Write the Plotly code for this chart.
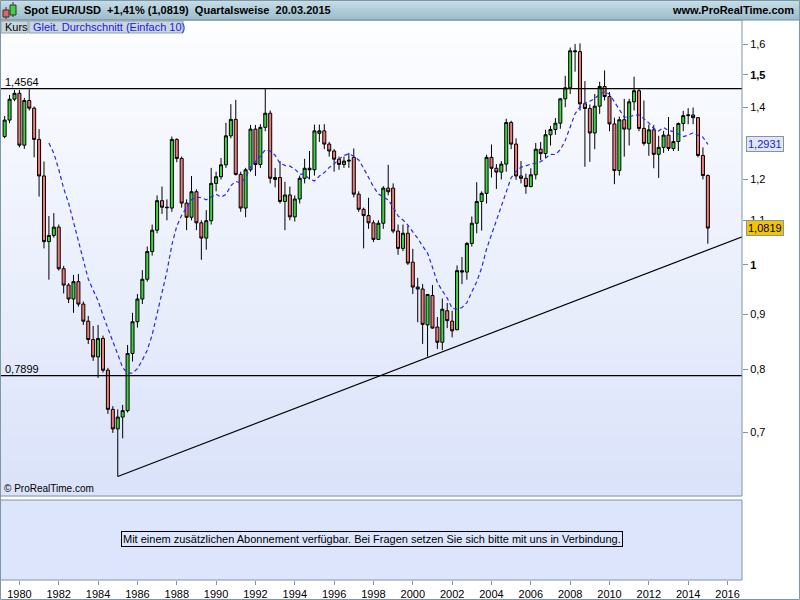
import numpy as np
import pandas as pd
import plotly.graph_objects as go

# ---------------- data (quarterly EUR/USD, 1979Q2 .. 2015Q1) ----------------
quarters = [str(p) for p in pd.period_range("1979Q2", "2015Q1", freq="Q")]

opens = [1.315, 1.362, 1.424, 1.442, 1.291, 1.420, 1.397, 1.307, 1.209, 1.051,
         1.065, 1.084, 0.992, 0.958, 0.930, 0.965, 0.920, 0.887, 0.853, 0.822,
         0.855, 0.799, 0.735, 0.705, 0.723, 0.733, 0.828, 0.886, 0.930, 0.970,
         1.029, 1.077, 1.147, 1.131, 1.129, 1.307, 1.255, 1.141, 1.107, 1.169,
         1.094, 1.059, 1.099, 1.190, 1.207, 1.238, 1.317, 1.364, 1.213, 1.129,
         1.225, 1.336, 1.239, 1.341, 1.382, 1.200, 1.205, 1.145, 1.161, 1.108,
         1.151, 1.203, 1.229, 1.225, 1.324, 1.331, 1.294, 1.275, 1.253, 1.239,
         1.248, 1.258, 1.163, 1.126, 1.111, 1.094, 1.056, 1.093, 1.178, 1.178,
         1.075, 1.036, 1.070, 1.006, 0.954, 0.950, 0.880, 0.937, 0.876, 0.848,
         0.907, 0.887, 0.871, 0.988, 0.985, 1.047, 1.093, 1.145, 1.165, 1.258,
         1.229, 1.219, 1.240, 1.355, 1.294, 1.209, 1.203, 1.182, 1.212, 1.280,
         1.268, 1.320, 1.335, 1.353, 1.425, 1.459, 1.579, 1.576, 1.410, 1.396,
         1.325, 1.403, 1.463, 1.432, 1.351, 1.223, 1.363, 1.336, 1.416, 1.450,
         1.338, 1.296, 1.334, 1.266, 1.285, 1.319, 1.282, 1.301, 1.352, 1.375,
         1.377, 1.369, 1.263, 1.210]
highs = [1.374, 1.437, 1.452, 1.452, 1.428, 1.454, 1.402, 1.336, 1.247, 1.110,
         1.117, 1.090, 0.998, 0.962, 0.979, 0.981, 0.925, 0.897, 0.878, 0.880,
         0.860, 0.803, 0.740, 0.735, 0.742, 0.843, 0.903, 0.940, 0.989, 1.040,
         1.090, 1.160, 1.182, 1.150, 1.315, 1.310, 1.260, 1.150, 1.209, 1.175,
         1.100, 1.124, 1.230, 1.220, 1.256, 1.354, 1.409, 1.422, 1.220, 1.230,
         1.348, 1.348, 1.350, 1.456, 1.390, 1.230, 1.248, 1.194, 1.182, 1.160,
         1.210, 1.254, 1.275, 1.349, 1.349, 1.350, 1.300, 1.280, 1.260, 1.260,
         1.270, 1.282, 1.170, 1.130, 1.154, 1.100, 1.100, 1.183, 1.238, 1.190,
         1.090, 1.090, 1.087, 1.035, 0.973, 0.960, 0.940, 0.958, 0.895, 0.931,
         0.922, 0.907, 0.999, 1.017, 1.050, 1.109, 1.193, 1.170, 1.265, 1.293,
         1.240, 1.248, 1.366, 1.360, 1.310, 1.248, 1.215, 1.229, 1.297, 1.300,
         1.334, 1.345, 1.368, 1.428, 1.497, 1.590, 1.602, 1.604, 1.480, 1.408,
         1.440, 1.478, 1.514, 1.446, 1.369, 1.372, 1.425, 1.425, 1.494, 1.455,
         1.420, 1.349, 1.348, 1.317, 1.331, 1.371, 1.342, 1.355, 1.389, 1.397,
         1.399, 1.370, 1.285, 1.213]
lows = [1.310, 1.353, 1.418, 1.285, 1.281, 1.390, 1.258, 1.157, 1.036, 0.969,
        1.060, 0.988, 0.941, 0.922, 0.903, 0.915, 0.880, 0.845, 0.815, 0.786,
        0.795, 0.728, 0.699, 0.637, 0.691, 0.730, 0.814, 0.875, 0.920, 0.965,
        1.020, 1.070, 1.115, 1.100, 1.120, 1.245, 1.130, 1.077, 1.100, 1.077,
        1.011, 1.033, 1.090, 1.170, 1.200, 1.230, 1.310, 1.210, 1.120, 1.107,
        1.220, 1.209, 1.230, 1.330, 1.190, 1.180, 1.140, 1.077, 1.100, 1.097,
        1.140, 1.190, 1.200, 1.210, 1.300, 1.280, 1.260, 1.220, 1.225, 1.230,
        1.230, 1.155, 1.120, 1.036, 1.080, 1.050, 1.055, 1.080, 1.160, 1.070,
        1.022, 1.030, 1.000, 0.940, 0.885, 0.845, 0.8225, 0.873, 0.836, 0.834,
        0.874, 0.857, 0.870, 0.960, 0.969, 1.040, 1.070, 1.076, 1.140, 1.205,
        1.176, 1.200, 1.220, 1.280, 1.199, 1.190, 1.164, 1.180, 1.200, 1.250,
        1.256, 1.290, 1.320, 1.337, 1.400, 1.440, 1.510, 1.390, 1.233, 1.246,
        1.280, 1.380, 1.420, 1.330, 1.188, 1.210, 1.260, 1.290, 1.390, 1.330,
        1.290, 1.262, 1.229, 1.204, 1.270, 1.275, 1.275, 1.275, 1.330, 1.350,
        1.350, 1.258, 1.200, 1.0462]
closes = [1.362, 1.424, 1.442, 1.291, 1.420, 1.397, 1.307, 1.209, 1.051, 1.065,
          1.084, 0.992, 0.958, 0.930, 0.965, 0.920, 0.887, 0.853, 0.822, 0.855,
          0.799, 0.735, 0.705, 0.723, 0.733, 0.828, 0.886, 0.930, 0.970, 1.029,
          1.077, 1.147, 1.131, 1.130, 1.307, 1.255, 1.141, 1.107, 1.169, 1.094,
          1.059, 1.099, 1.190, 1.207, 1.238, 1.317, 1.364, 1.213, 1.129, 1.225,
          1.336, 1.239, 1.341, 1.382, 1.203, 1.205, 1.145, 1.161, 1.108, 1.151,
          1.203, 1.229, 1.225, 1.331, 1.331, 1.294, 1.275, 1.253, 1.239, 1.248,
          1.250, 1.163, 1.126, 1.111, 1.094, 1.056, 1.093, 1.178, 1.169, 1.075,
          1.036, 1.070, 1.004, 0.954, 0.950, 0.881, 0.939, 0.874, 0.848, 0.910,
          0.888, 0.869, 0.988, 0.985, 1.047, 1.093, 1.145, 1.165, 1.258, 1.229,
          1.219, 1.240, 1.355, 1.294, 1.209, 1.203, 1.182, 1.212, 1.280, 1.268,
          1.320, 1.335, 1.353, 1.425, 1.459, 1.579, 1.576, 1.410, 1.396, 1.325,
          1.403, 1.463, 1.432, 1.351, 1.223, 1.363, 1.336, 1.416, 1.450, 1.338,
          1.296, 1.334, 1.266, 1.285, 1.319, 1.282, 1.301, 1.352, 1.375, 1.377,
          1.369, 1.263, 1.210, 1.0819]

resistance_level = 1.4564
support_level = 0.7899
trend_years = [1985.0, 2016.75]
trend_values = [0.637, 1.062]
ma_last = 1.2931
last_close = 1.0819
ytick_vals = [0.7, 0.8, 0.9, 1.0, 1.1, 1.2, 1.4, 1.5, 1.6]
ytick_text = ["0,7", "0,8", "0,9", "<b>1</b>", "1,1", "1,2", "1,4", "<b>1,5</b>", "1,6"]
xtick_years = list(range(1980, 2017, 2))

# ---------------- derived ----------------
xpos = [int(q[:4]) + (int(q[-1]) - 1) / 4 for q in quarters]
ma10 = pd.Series(closes).rolling(10).mean()

W, H = 800, 600
FONT = "Liberation Sans, Arial, sans-serif"
def px(x): return x / W
def py(y): return 1 - y / H

PLOT_R = 742
MAIN_T, MAIN_B = 20, 496
LOW_T, LOW_B = 500, 580
x_left = 1980 - 19.4 / 19.67
x_right = 1980 + (PLOT_R - 19.4) / 19.67

fig = go.Figure()

fig.add_trace(go.Candlestick(
    x=xpos, open=opens, high=highs, low=lows, close=closes,
    increasing=dict(line=dict(color="#000000", width=1), fillcolor="#3fd43f"),
    decreasing=dict(line=dict(color="#000000", width=1), fillcolor="#f07a7a"),
    whiskerwidth=0, showlegend=False, hoverinfo="skip",
    xaxis="x", yaxis="y"))

fig.add_trace(go.Scatter(x=xpos, y=ma10, mode="lines",
                         line=dict(color="#2828f0", width=1.2, dash="4px,3px"),
                         showlegend=False, hoverinfo="skip"))

for lvl in (resistance_level, support_level):
    fig.add_trace(go.Scatter(x=[x_left - 1, x_right + 1], y=[lvl, lvl], mode="lines",
                             line=dict(color="#000000", width=1.2),
                             showlegend=False, hoverinfo="skip"))

fig.add_trace(go.Scatter(x=trend_years, y=trend_values, mode="lines",
                         line=dict(color="#000000", width=1.2),
                         showlegend=False, hoverinfo="skip"))

# lower pane dummy trace
fig.add_trace(go.Scatter(x=[x_left], y=[0.5], mode="markers", marker=dict(opacity=0),
                         xaxis="x2", yaxis="y2", showlegend=False, hoverinfo="skip"))

shapes = []
# main pane gradient
nb = 40
c0 = np.array([253, 254, 255]); c1 = np.array([219, 227, 250])
for k in range(nb):
    t = k / (nb - 1)
    c = (c0 + (c1 - c0) * t).astype(int)
    y0 = MAIN_T + (MAIN_B - MAIN_T) * k / nb
    y1 = MAIN_T + (MAIN_B - MAIN_T) * (k + 1) / nb + 0.5
    shapes.append(dict(type="rect", xref="paper", yref="paper", x0=0, x1=px(PLOT_R),
                       y0=py(y1), y1=py(y0), line=dict(width=0),
                       fillcolor=f"rgb({c[0]},{c[1]},{c[2]})", layer="below"))
# lower pane
shapes.append(dict(type="rect", xref="paper", yref="paper", x0=px(0.5), x1=px(PLOT_R),
                   y0=py(LOW_B), y1=py(LOW_T), line=dict(color="#7f96a4", width=1),
                   fillcolor="#dce5fb", layer="below"))
# header gradient
hb = 10
h0 = np.array([197, 221, 232]); h1 = np.array([158, 188, 203])
for k in range(hb):
    t = k / (hb - 1)
    c = (h0 + (h1 - h0) * t).astype(int)
    y0 = 20 * k / hb
    y1 = 20 * (k + 1) / hb + 0.3
    shapes.append(dict(type="rect", xref="paper", yref="paper", x0=0, x1=1,
                       y0=py(y1), y1=py(y0), line=dict(width=0),
                       fillcolor=f"rgb({c[0]},{c[1]},{c[2]})", layer="below"))
shapes.append(dict(type="line", xref="paper", yref="paper", x0=0, x1=1,
                   y0=py(20), y1=py(20), line=dict(color="#7f96a4", width=1)))
# main pane border
shapes.append(dict(type="rect", xref="paper", yref="paper", x0=px(0.5), x1=px(PLOT_R),
                   y0=py(MAIN_B), y1=py(MAIN_T), line=dict(color="#7f96a4", width=1),
                   fillcolor="rgba(0,0,0,0)", layer="above"))
# outer frame
shapes.append(dict(type="rect", xref="paper", yref="paper", x0=px(0.5), x1=px(799.5),
                   y0=py(599.5), y1=py(0.5), line=dict(color="#7f96a4", width=1),
                   fillcolor="rgba(0,0,0,0)", layer="above"))
# legend tabs
shapes.append(dict(type="rect", xref="paper", yref="paper", x0=px(1), x1=px(28),
                   y0=py(33), y1=py(21), line=dict(color="#8ea3b0", width=1),
                   fillcolor="#c9d6df", layer="above"))
shapes.append(dict(type="rect", xref="paper", yref="paper", x0=px(29), x1=px(183),
                   y0=py(33), y1=py(21), line=dict(color="#8ea3b0", width=1),
                   fillcolor="#c9d6df", layer="above"))
# header candle icon
shapes.append(dict(type="line", xref="paper", yref="paper", x0=px(6), x1=px(6),
                   y0=py(19), y1=py(7), line=dict(color="#333", width=1)))
shapes.append(dict(type="rect", xref="paper", yref="paper", x0=px(3), x1=px(9),
                   y0=py(17), y1=py(10), line=dict(color="#333", width=1),
                   fillcolor="#e86060"))
shapes.append(dict(type="line", xref="paper", yref="paper", x0=px(13), x1=px(13),
                   y0=py(17), y1=py(2), line=dict(color="#333", width=1)))
shapes.append(dict(type="rect", xref="paper", yref="paper", x0=px(10), x1=px(16),
                   y0=py(15), y1=py(5), line=dict(color="#333", width=1),
                   fillcolor="#40d040"))

annotations = [
    dict(text="<b>Spot EUR/USD  +1,41% (1,0819)  Quartalsweise  20.03.2015</b>",
         xref="paper", yref="paper", x=px(22), y=py(10.5), xanchor="left", yanchor="middle",
         showarrow=False, font=dict(family=FONT, size=11, color="#000")),
    dict(text="<b>www.ProRealTime.com</b>", xref="paper", yref="paper", x=px(796), y=py(10.5),
         xanchor="right", yanchor="middle", showarrow=False,
         font=dict(family=FONT, size=11, color="#000")),
    dict(text="Kurs", xref="paper", yref="paper", x=px(3), y=py(27), xanchor="left",
         yanchor="middle", showarrow=False, font=dict(family=FONT, size=11, color="#000")),
    dict(text="Gleit. Durchschnitt (Einfach 10)", xref="paper", yref="paper", x=px(31),
         y=py(27), xanchor="left", yanchor="middle", showarrow=False,
         font=dict(family=FONT, size=11, color="#1a1ae0")),
    dict(text="1,4564", xref="paper", yref="y", x=px(3), y=np.log10(resistance_level),
         xanchor="left", yanchor="bottom", showarrow=False, yshift=-1,
         font=dict(family=FONT, size=11, color="#000")),
    dict(text="0,7899", xref="paper", yref="y", x=px(3), y=np.log10(support_level),
         xanchor="left", yanchor="bottom", showarrow=False, yshift=-1,
         font=dict(family=FONT, size=11, color="#000")),
    dict(text="© ProRealTime.com", xref="paper", yref="paper", x=px(2), y=py(489),
         xanchor="left", yanchor="middle", showarrow=False,
         font=dict(family=FONT, size=10, color="#000")),
    dict(text="Mit einem zusätzlichen Abonnement verfügbar. Bei Fragen setzen Sie sich bitte mit uns in Verbindung.",
         xref="paper", yref="paper", x=px(372), y=py(539), xanchor="center", yanchor="middle",
         showarrow=False, bordercolor="#000", borderwidth=1, borderpad=1, bgcolor="#dce5fb",
         font=dict(family=FONT, size=11, color="#000")),
    dict(text=f"{ma_last:.4f}".replace(".", ","), xref="paper", yref="y", x=px(746),
         y=np.log10(ma_last), xanchor="left", yanchor="middle", showarrow=False,
         bgcolor="#dfe7f3", bordercolor="#7f96a4", borderwidth=1, borderpad=1,
         font=dict(family=FONT, size=11, color="#2020e0")),
    dict(text=f"{last_close:.4f}".replace(".", ","), xref="paper", yref="y", x=px(746),
         y=np.log10(last_close), xanchor="left", yanchor="middle", showarrow=False,
         bgcolor="#f5c400", bordercolor="#7f96a4", borderwidth=1, borderpad=1,
         font=dict(family=FONT, size=11, color="#000")),
]

fig.update_layout(
    width=W, height=H, margin=dict(l=0, r=0, t=0, b=0),
    paper_bgcolor="#ffffff", plot_bgcolor="rgba(0,0,0,0)",
    showlegend=False, hovermode=False, boxgap=0.12,
    shapes=shapes, annotations=annotations,
    xaxis=dict(domain=[0, px(PLOT_R)], range=[x_left, x_right], showticklabels=False,
               showgrid=False, zeroline=False, showline=False, ticks="",
               rangeslider=dict(visible=False), anchor="y"),
    yaxis=dict(domain=[py(MAIN_B), py(MAIN_T)], type="log",
               range=[np.log10(0.611), np.log10(1.686)], side="right", anchor="x",
               tickvals=ytick_vals, ticktext=ytick_text, ticks="outside", ticklen=5,
               tickcolor="#7f96a4", tickfont=dict(family=FONT, size=11, color="#000"),
               showgrid=False, zeroline=False, showline=False, automargin=False),
    xaxis2=dict(domain=[0, px(PLOT_R)], range=[x_left, x_right], anchor="y2",
                tickvals=xtick_years, ticktext=[str(v) for v in xtick_years],
                ticks="outside", ticklen=4, tickcolor="#7f96a4",
                tickfont=dict(family=FONT, size=11, color="#000"),
                showgrid=False, zeroline=False, showline=False, automargin=False),
    yaxis2=dict(domain=[py(LOW_B), py(LOW_T)], range=[0, 1], anchor="x2",
                showticklabels=False, showgrid=False, zeroline=False, showline=False),
)

fig.write_html("out.html", config={"displayModeBar": False},
               post_script="document.body.style.margin='0';document.body.style.overflow='hidden';")
